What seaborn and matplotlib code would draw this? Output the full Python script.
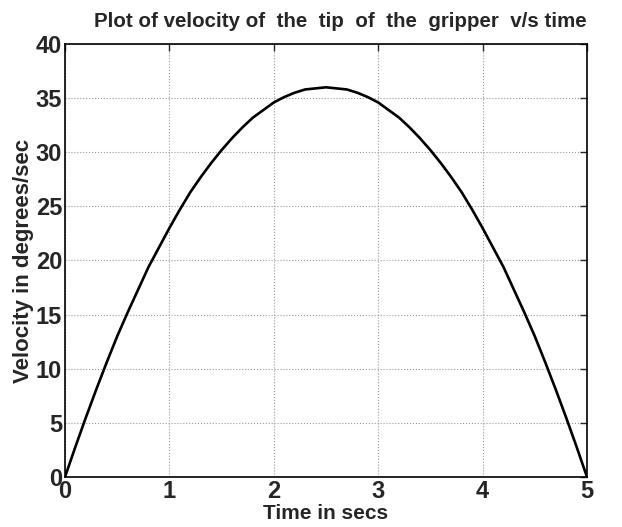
import matplotlib
matplotlib.use("Agg")
import matplotlib.pyplot as plt
import seaborn as sns
import pandas as pd

# values
tempo = [0.0, 0.1, 0.2, 0.3, 0.4, 0.5, 0.6, 0.7, 0.8, 0.9, 1.0,
         1.1, 1.2, 1.3, 1.4, 1.5, 1.6, 1.7, 1.8, 1.9, 2.0,
         2.1, 2.2, 2.3, 2.4, 2.5, 2.6, 2.7, 2.8, 2.9, 3.0,
         3.1, 3.2, 3.3, 3.4, 3.5, 3.6, 3.7, 3.8, 3.9, 4.0,
         4.1, 4.2, 4.3, 4.4, 4.5, 4.6, 4.7, 4.8, 4.9, 5.0]
velocidade = [0.0, 2.8, 5.5, 8.1, 10.6, 13.0, 15.2, 17.3, 19.4, 21.2, 23.0,
              24.7, 26.3, 27.7, 29.0, 30.2, 31.3, 32.3, 33.2, 33.9, 34.6,
              35.1, 35.5, 35.8, 35.9, 36.0, 35.9, 35.8, 35.5, 35.1, 34.6,
              33.9, 33.2, 32.3, 31.3, 30.2, 29.0, 27.7, 26.3, 24.7, 23.0,
              21.2, 19.4, 17.3, 15.2, 13.0, 10.6, 8.1, 5.5, 2.8, 0.0]
x_ticks = [0, 1, 2, 3, 4, 5]
y_ticks = [0, 5, 10, 15, 20, 25, 30, 35, 40]

df = pd.DataFrame({"t": tempo, "v": velocidade})

sns.set_style("white")
plt.rcParams["font.family"] = ["Liberation Sans", "DejaVu Sans"]
plt.rcParams["font.weight"] = "bold"

fig = plt.figure(figsize=(6.22, 5.27), dpi=100)
ax = fig.add_axes([0.1045, 0.0949, 0.8392, 0.8216])
sns.lineplot(data=df, x="t", y="v", color="black", linewidth=1.9, ax=ax)

ax.set_xlim(0, 5)
ax.set_ylim(0, 40)
ax.set_xticks(x_ticks)
ax.set_yticks(y_ticks)
ax.set_xticklabels([str(v) for v in x_ticks], fontsize=17, fontweight="bold")
ax.set_yticklabels([str(v) for v in y_ticks], fontsize=17, fontweight="bold")
ax.grid(True, linestyle=":", color="#999999", linewidth=0.8)
ax.tick_params(axis="both", direction="in", top=True, right=True, length=5,
               width=1)
ax.tick_params(axis="x", pad=2)
ax.tick_params(axis="y", pad=2)
for s in ax.spines.values():
    s.set_color("black")
    s.set_linewidth(1.2)

ax.set_title("Plot of velocity of  the  tip  of  the  gripper  v/s time",
             fontsize=14.8, fontweight="bold", pad=12, x=0.527)
ax.set_xlabel("Time in secs", fontsize=15, fontweight="bold", labelpad=1)
ax.set_ylabel("Velocity in degrees/sec", fontsize=16, fontweight="bold", labelpad=1)

plt.savefig("out.png", dpi=100)
